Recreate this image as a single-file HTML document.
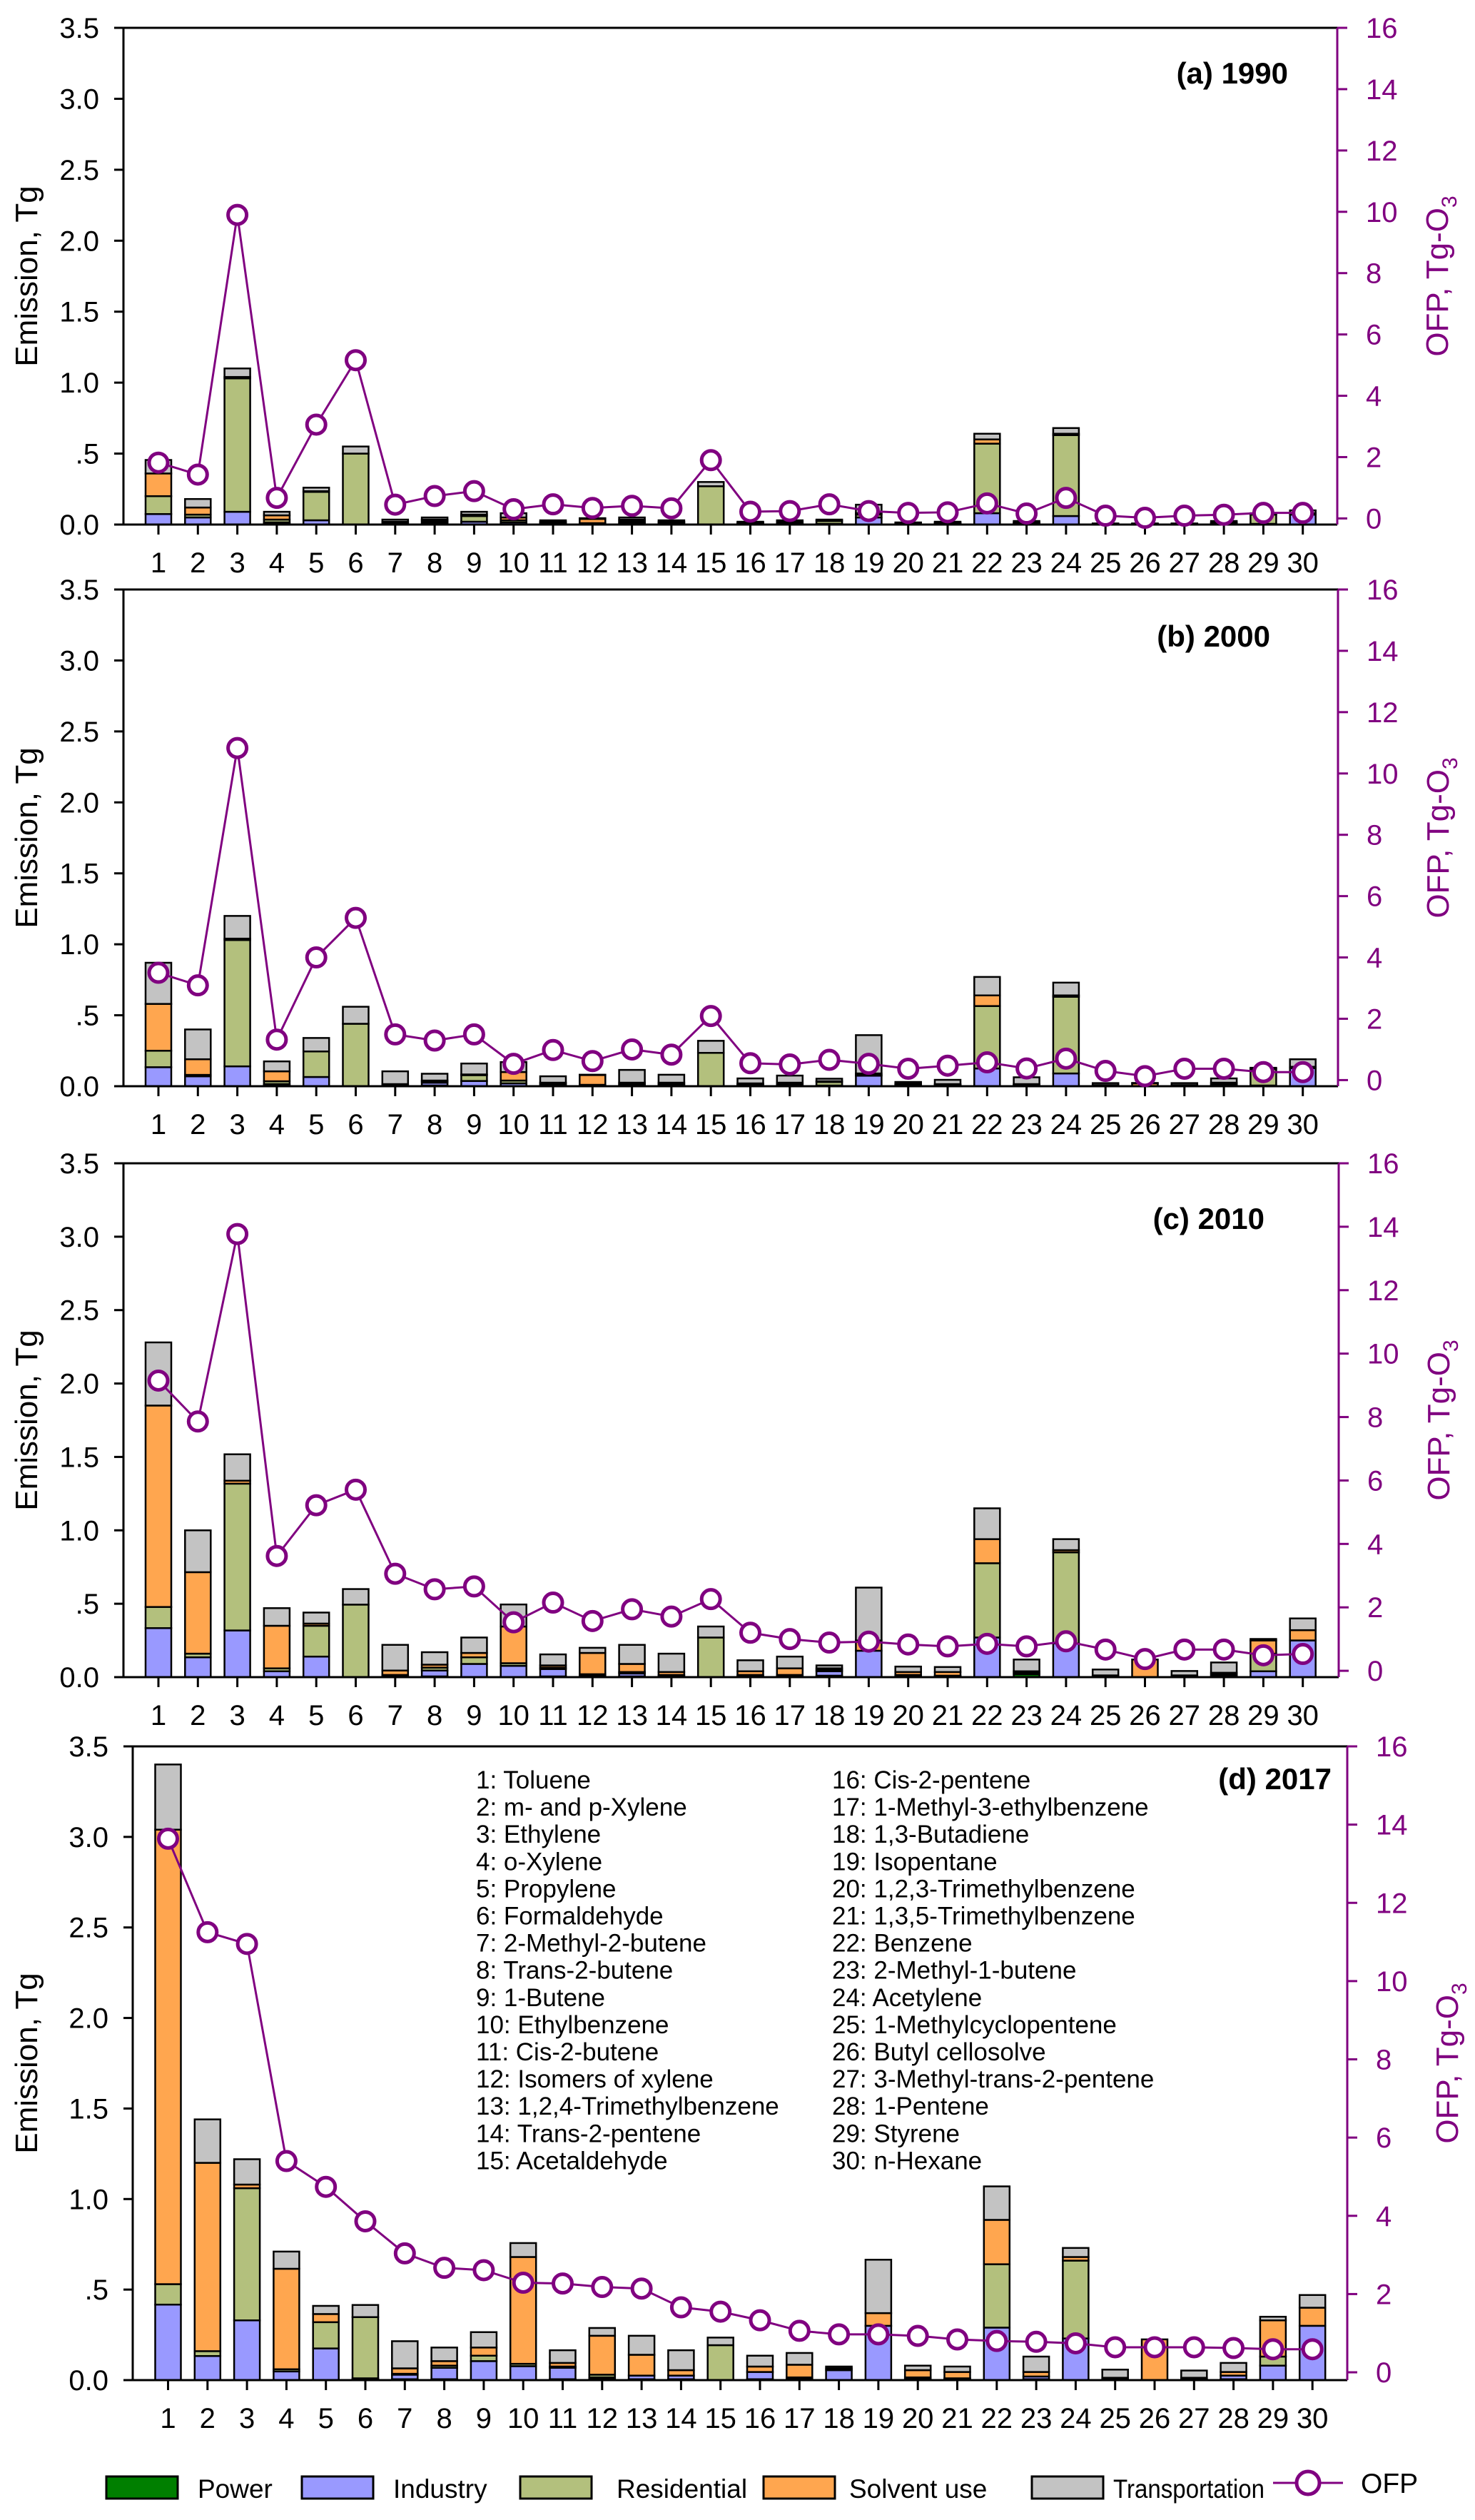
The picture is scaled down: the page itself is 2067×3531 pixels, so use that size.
<!DOCTYPE html>
<html><head><meta charset="utf-8"><style>
html,body{margin:0;padding:0;background:#fff}
svg{display:block}
text{font-family:"Liberation Sans",Arial,sans-serif}
.n{font-family:"Liberation Sans Narrow","Liberation Sans",sans-serif}
</style></head><body>
<svg id="fig" xmlns="http://www.w3.org/2000/svg" width="2067" height="3531" viewBox="0 0 2067 3531"></svg>
<script>
const categories=[1,2,3,4,5,6,7,8,9,10,11,12,13,14,15,16,17,18,19,20,21,22,23,24,25,26,27,28,29,30];
const leftTicks=[0,0.5,1,1.5,2,2.5,3,3.5];
const leftTickLabels=["0.0",".5","1.0","1.5","2.0","2.5","3.0","3.5"];
const rightTicks=[0,2,4,6,8,10,12,14,16];
const speciesNames=["Toluene","m- and p-Xylene","Ethylene","o-Xylene","Propylene","Formaldehyde","2-Methyl-2-butene","Trans-2-butene","1-Butene","Ethylbenzene","Cis-2-butene","Isomers of xylene","1,2,4-Trimethylbenzene","Trans-2-pentene","Acetaldehyde","Cis-2-pentene","1-Methyl-3-ethylbenzene","1,3-Butadiene","Isopentane","1,2,3-Trimethylbenzene","1,3,5-Trimethylbenzene","Benzene","2-Methyl-1-butene","Acetylene","1-Methylcyclopentene","Butyl cellosolve","3-Methyl-trans-2-pentene","1-Pentene","Styrene","n-Hexane"];

// 1990
const power1990=[0,0,0,0.005,0,0,0.005,0.01,0,0,0.01,0,0.005,0.01,0,0.005,0.005,0,0,0.005,0.005,0,0.005,0,0.002,0.002,0.002,0.005,0,0];
const industry1990=[0.074,0.05,0.09,0.01,0.03,0,0.005,0.01,0.02,0.015,0.005,0.005,0.01,0.005,0,0.005,0.005,0.005,0.05,0,0.005,0.08,0.005,0.06,0.002,0.002,0.002,0.005,0.005,0.07];
const residential1990=[0.126,0.02,0.94,0.02,0.2,0.5,0.005,0.01,0.04,0.015,0,0.005,0.01,0,0.27,0,0,0.02,0.02,0,0,0.49,0,0.57,0,0,0,0,0.065,0];
const solvent1990=[0.16,0.05,0.01,0.03,0.005,0,0.005,0.005,0.01,0.02,0.005,0.03,0.01,0.005,0,0.005,0.01,0.005,0.01,0.005,0.005,0.03,0.005,0.01,0.002,0.002,0.002,0.005,0.005,0.01];
const transport1990=[0.095,0.06,0.06,0.025,0.025,0.05,0.015,0.015,0.02,0.03,0.01,0.005,0.015,0.01,0.03,0.005,0.01,0.005,0.06,0.005,0.005,0.04,0.01,0.04,0.002,0.002,0.002,0.01,0.005,0.02];
const ofp1990=[1.82,1.43,9.9,0.67,3.06,5.16,0.45,0.73,0.89,0.3,0.46,0.34,0.41,0.33,1.9,0.22,0.24,0.46,0.24,0.18,0.2,0.49,0.16,0.67,0.09,0.02,0.09,0.12,0.18,0.18];

// 2000
const power2000=[0,0,0,0.005,0,0,0.005,0.005,0,0,0.01,0.005,0.005,0.005,0,0.005,0.005,0,0,0.01,0.005,0,0.005,0,0.002,0,0.002,0.005,0,0];
const industry2000=[0.134,0.07,0.14,0.01,0.065,0,0.005,0.02,0.037,0.02,0.01,0.005,0.01,0.01,0,0.005,0.01,0.005,0.074,0.005,0.005,0.125,0.005,0.09,0.003,0,0.003,0.01,0.005,0.127];
const residential2000=[0.116,0.01,0.89,0.02,0.18,0.44,0,0.01,0.041,0.02,0,0,0,0,0.235,0.005,0,0.025,0.006,0,0,0.44,0,0.54,0,0,0,0,0.115,0];
const solvent2000=[0.33,0.11,0.01,0.07,0,0,0.005,0.005,0.005,0.06,0.005,0.07,0.01,0.01,0,0.005,0.01,0.005,0.01,0.005,0.005,0.075,0.005,0.01,0.003,0.02,0.003,0.01,0.005,0.01];
const transport2000=[0.29,0.21,0.16,0.07,0.095,0.12,0.09,0.048,0.077,0.07,0.045,0.001,0.09,0.056,0.085,0.035,0.05,0.018,0.27,0.01,0.03,0.13,0.048,0.09,0.014,0.003,0.014,0.03,0.005,0.053];
const ofp2000=[3.5,3.09,10.83,1.32,4.0,5.29,1.49,1.29,1.49,0.53,0.98,0.62,1.0,0.83,2.09,0.55,0.51,0.66,0.53,0.37,0.47,0.58,0.38,0.7,0.3,0.13,0.37,0.37,0.26,0.26];

// 2010
const power2010=[0,0,0,0,0,0,0.005,0.005,0,0,0.005,0,0.005,0.005,0,0.005,0.005,0.01,0,0.005,0.005,0,0.02,0,0.002,0,0.002,0.01,0,0];
const industry2010=[0.334,0.135,0.318,0.04,0.14,0,0.01,0.04,0.09,0.077,0.05,0.01,0.02,0.01,0,0.01,0.01,0.03,0.18,0.01,0.005,0.27,0.01,0.23,0.005,0,0.005,0.01,0.04,0.25];
const residential2010=[0.144,0.025,1.0,0.02,0.21,0.494,0,0.02,0.045,0.018,0.01,0.01,0.01,0,0.27,0,0,0.01,0,0,0,0.506,0,0.62,0,0,0,0,0.12,0];
const solvent2010=[1.372,0.555,0.02,0.29,0.015,0,0.03,0.02,0.03,0.25,0.015,0.145,0.055,0.02,0,0.025,0.045,0.01,0.07,0.02,0.025,0.164,0.01,0.015,0.005,0.12,0.005,0.01,0.09,0.07];
const transport2010=[0.43,0.285,0.18,0.12,0.075,0.106,0.175,0.085,0.105,0.15,0.075,0.035,0.13,0.125,0.075,0.075,0.08,0.02,0.36,0.037,0.034,0.21,0.08,0.075,0.04,0,0.03,0.07,0.01,0.08];
const ofp2010=[9.15,7.86,13.77,3.62,5.22,5.71,3.06,2.57,2.66,1.53,2.15,1.57,1.94,1.71,2.26,1.2,1.0,0.89,0.92,0.83,0.77,0.85,0.77,0.93,0.67,0.37,0.67,0.67,0.49,0.53];

// 2017
const power2017=[0,0,0,0,0,0.005,0.005,0.005,0,0,0.005,0.005,0.005,0.005,0,0.005,0.005,0,0,0.005,0.005,0,0.005,0,0.003,0,0.003,0.005,0,0];
const industry2017=[0.417,0.133,0.33,0.048,0.175,0.005,0.025,0.063,0.105,0.077,0.063,0.01,0.02,0.02,0,0.04,0.01,0.055,0.3,0.01,0.005,0.29,0.015,0.23,0.005,0,0.005,0.02,0.08,0.3];
const residential2017=[0.113,0.027,0.73,0.012,0.145,0.338,0.005,0.012,0.03,0.013,0.007,0.015,0,0,0.193,0,0,0,0,0,0,0.35,0,0.43,0,0,0,0,0.05,0];
const solvent2017=[2.51,1.04,0.02,0.555,0.045,0,0.03,0.025,0.045,0.59,0.02,0.215,0.115,0.03,0,0.03,0.07,0.01,0.07,0.04,0.035,0.245,0.025,0.02,0.005,0.225,0.005,0.02,0.2,0.1];
const transport2017=[0.36,0.24,0.14,0.095,0.045,0.067,0.15,0.075,0.085,0.077,0.07,0.043,0.105,0.11,0.042,0.06,0.065,0.01,0.295,0.025,0.03,0.185,0.085,0.05,0.045,0,0.04,0.05,0.02,0.07];
const ofp2017=[13.64,11.25,10.95,5.4,4.74,3.86,3.04,2.67,2.61,2.29,2.27,2.18,2.14,1.66,1.55,1.33,1.06,0.97,0.97,0.93,0.84,0.8,0.78,0.74,0.64,0.64,0.64,0.62,0.59,0.59];

const NS="http://www.w3.org/2000/svg";
const svg=document.getElementById('fig');
function mk(tag,attrs,parent,txt){const e=document.createElementNS(NS,tag);for(const k in attrs)e.setAttribute(k,attrs[k]);if(txt!==undefined)e.textContent=txt;(parent||svg).appendChild(e);return e;}
const colors={power:"#007F00",industry:"#9999FF",residential:"#B3C07D",solvent:"#FFA64F",transport:"#C3C3C3"};
const PURPLE="#800080";

const panels=[
 {id:"a",title:"(a) 1990",titleX:1805,titleDy:78,top:39,bottom:735,left:173,right:1874,x0:222,series:[power1990,industry1990,residential1990,solvent1990,transport1990],ofp:ofp1990},
 {id:"b",title:"(b) 2000",titleX:1780,titleDy:80,top:826,bottom:1522,left:173,right:1875,x0:222,series:[power2000,industry2000,residential2000,solvent2000,transport2000],ofp:ofp2000},
 {id:"c",title:"(c) 2010",titleX:1772,titleDy:92,top:1630,bottom:2350,left:173,right:1876,x0:222,series:[power2010,industry2010,residential2010,solvent2010,transport2010],ofp:ofp2010},
 {id:"d",title:"(d) 2017",titleX:1866,titleDy:60,top:2447,bottom:3335,left:186,right:1888,x0:235.5,series:[power2017,industry2017,residential2017,solvent2017,transport2017],ofp:ofp2017}
];
const segNames=["power","industry","residential","solvent","transport"];
const DX=55.3, BW=36;

panels.forEach(p=>{
  const g=mk('g',{});
  
  
  const yL=v=>p.bottom-(v/3.5)*(p.bottom-p.top);
  const oMin=-0.2;
  const yR=v=>p.bottom-((v-oMin)/(16-oMin))*(p.bottom-p.top);
  const xC=i=>p.x0+i*DX;
  categories.forEach((c,i)=>{
    let cum=0;
    p.series.forEach((s,k)=>{
      const v=s[i]; if(v<=0)return;
      const y1=yL(cum+v), y0=yL(cum);
      const r=mk('rect',{x:xC(i)-BW/2,y:y1,width:BW,height:Math.max(y0-y1,0.5),fill:colors[segNames[k]],stroke:"#000","stroke-width":2.5},g);
      
      
      cum+=v;
    });
  });
  const ax=mk('path',{d:`M${p.left},${p.top} L${p.left},${p.bottom} L${p.right},${p.bottom}`,stroke:"#000","stroke-width":3,fill:"none"},g);
  
  
  const tp=mk('line',{x1:p.left-13,y1:p.top,x2:p.right,y2:p.top,stroke:"#000","stroke-width":3},g);
  
  
  const ra=mk('line',{x1:p.right,y1:p.top,x2:p.right,y2:p.bottom,stroke:PURPLE,"stroke-width":3},g);
  
  
  leftTicks.forEach((t,k)=>{
    mk('line',{x1:p.left-13,y1:yL(t),x2:p.left,y2:yL(t),stroke:"#000","stroke-width":3},g);
    const tl=mk('text',{x:p.left-34,y:yL(t)+14,"text-anchor":"end","font-size":40,fill:"#000"},g,leftTickLabels[k]);
    
    
  });
  rightTicks.forEach(t=>{
    mk('line',{x1:p.right,y1:yR(t),x2:p.right+14,y2:yR(t),stroke:PURPLE,"stroke-width":3},g);
    const tl=mk('text',{x:p.right+40,y:yR(t)+14,"font-size":40,fill:PURPLE},g,String(t));
    
    
  });
  categories.forEach((c,i)=>{
    mk('line',{x1:xC(i),y1:p.bottom,x2:xC(i),y2:p.bottom+14,stroke:"#000","stroke-width":3},g);
    const tl=mk('text',{x:xC(i),y:p.bottom+67,"text-anchor":"middle","font-size":40,fill:"#000"},g,String(c));
    
    
  });
  const pts=p.ofp.map((v,i)=>xC(i)+","+yR(v)).join(" ");
  const pl=mk('polyline',{points:pts,fill:"none",stroke:PURPLE,"stroke-width":3},g);
  
  
  p.ofp.forEach((v,i)=>{
    const m=mk('circle',{cx:xC(i),cy:yR(v),r:13,fill:"#fff",stroke:PURPLE,"stroke-width":5},g);
    
    
  });
  const cy=(p.top+p.bottom)/2;
  const yt=mk('text',{x:0,y:0,transform:`translate(52,${cy}) rotate(-90)`,"text-anchor":"middle","font-size":44,fill:"#000"},g,"Emission, Tg");
  
  
  const rt=mk('text',{x:0,y:0,transform:`translate(${p.right+155},${cy}) rotate(-90)`,"text-anchor":"middle","font-size":44,fill:PURPLE},g);
  
  
  mk('tspan',{},rt,"OFP, Tg-O");
  mk('tspan',{dy:12,"font-size":30},rt,"3");
  const tt=mk('text',{x:p.titleX,y:p.top+p.titleDy,"text-anchor":"end","font-size":42,"font-weight":"bold",class:"n",fill:"#000"},g,p.title);
  
  
});

const lg=mk('g',{});


speciesNames.forEach((n,i)=>{
  const col=i<15?0:1, row=i%15;
  const t=mk('text',{x:col?1166:667,y:2506+row*38.1,"font-size":35,class:"n",fill:"#000"},lg,(i+1)+": "+n);
  
  
});

const legend=[["Power",colors.power,149,277,0],["Industry",colors.industry,423,551,0],["Residential",colors.residential,729,864,0],["Solvent use",colors.solvent,1070,1190,0],["Transportation",colors.transport,1446,1560,212]];
const bl=mk('g',{});


legend.forEach(([name,col,bx,tx,tl])=>{
  const r=mk('rect',{x:bx,y:3470,width:100,height:31,fill:col,stroke:"#000","stroke-width":3},bl);
  
  
  const attrs={x:tx,y:3500,"font-size":37,class:"n",fill:"#000"};
  if(tl){attrs.textLength=tl;attrs.lengthAdjust="spacingAndGlyphs";}
  const t=mk('text',attrs,bl,name);
  
  
});
const ll=mk('line',{x1:1784,y1:3479,x2:1882,y2:3479,stroke:PURPLE,"stroke-width":3},bl);


const lc=mk('circle',{cx:1833,cy:3479,r:16,fill:"#fff",stroke:PURPLE,"stroke-width":5},bl);


const lt=mk('text',{x:1907,y:3493,"font-size":39,class:"n",fill:"#000"},bl,"OFP");


</script>
</body></html>
